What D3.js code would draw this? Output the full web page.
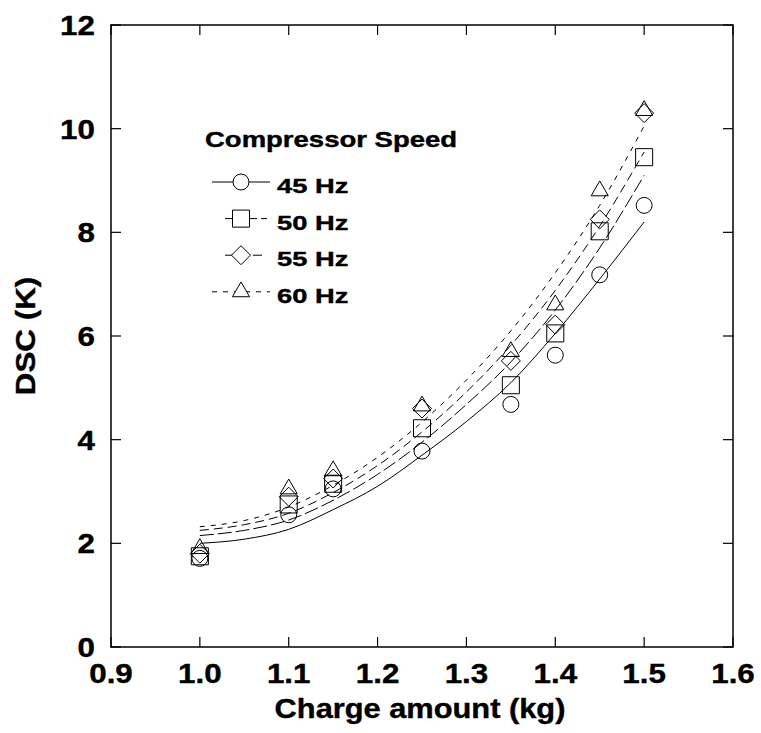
<!DOCTYPE html>
<html>
<head>
<meta charset="utf-8">
<script src="https://cdn.jsdelivr.net/npm/d3@7"></script>
<style>
  body { margin: 0; background: #fff; }
  text { font-family: "Liberation Sans", Arial, sans-serif; font-weight: bold; fill: #000; stroke: #000; stroke-width: 0.4px; }
</style>
</head>
<body>
<svg id="chart"></svg>
<script>
// measured points
const charge = [1.0, 1.1, 1.15, 1.25, 1.35, 1.4, 1.45, 1.5];
const dsc45 = [1.71, 2.55, 3.05, 3.78, 4.68, 5.63, 7.18, 8.52];
const dsc50 = [1.75, 2.75, 3.15, 4.22, 5.05, 6.05, 8.02, 9.45];
const dsc55 = [1.8, 2.9, 3.25, 4.6, 5.52, 6.22, 8.25, 10.3];
const dsc60 = [1.9, 3.05, 3.4, 4.65, 5.7, 6.6, 8.8, 10.35];

// fitted curves
const fitX = [1.0, 1.05, 1.1, 1.15, 1.2, 1.25, 1.3, 1.35, 1.4, 1.45, 1.5];
const fit45 = [2.0, 2.08, 2.27, 2.65, 3.1, 3.7, 4.35, 5.1, 6.05, 7.1, 8.2];
const fit50 = [2.15, 2.25, 2.45, 2.83, 3.33, 3.95, 4.68, 5.5, 6.5, 7.7, 9.1];
const fit55 = [2.25, 2.36, 2.58, 2.98, 3.5, 4.15, 4.92, 5.82, 6.88, 8.12, 9.55];
const fit60 = [2.32, 2.44, 2.7, 3.12, 3.66, 4.34, 5.15, 6.1, 7.22, 8.52, 10.05];

const speeds = ["45 Hz", "50 Hz", "55 Hz", "60 Hz"];
const xTicks = [0.9, 1.0, 1.1, 1.2, 1.3, 1.4, 1.5, 1.6];
const yTicks = [0, 2, 4, 6, 8, 10, 12];

const series = [
  {name: speeds[0], pts: dsc45, fit: fit45, symbol: d3.symbolCircle, size: 200, dash: null},
  {name: speeds[1], pts: dsc50, fit: fit50, symbol: d3.symbolSquare, size: 290, dash: "14,4"},
  {name: speeds[2], pts: dsc55, fit: fit55, symbol: d3.symbolDiamond2, size: 230, dash: "9,5"},
  {name: speeds[3], pts: dsc60, fit: fit60, symbol: d3.symbolTriangle2, size: 210, dash: "5,6"}
];

const W = 761, H = 733;
const margin = {top: 25, right: 28, bottom: 86, left: 111};
const width = W - margin.left - margin.right;
const height = H - margin.top - margin.bottom;

const svg = d3.select("#chart").attr("width", W).attr("height", H);
const g = svg.append("g").attr("transform", `translate(${margin.left},${margin.top})`);

const x = d3.scaleLinear().domain([0.9, 1.6]).range([0, width]);
const y = d3.scaleLinear().domain([0, 12]).range([height, 0]);

// the original lettering is a bit wider than Liberation Sans
function wideText(sel, px, py, sx, rot) {
  return sel.append("text")
    .attr("transform", `translate(${px},${py})${rot ? " rotate(" + rot + ")" : ""} scale(${sx},1)`);
}

// frame
g.append("rect")
  .attr("width", width).attr("height", height)
  .attr("fill", "none").attr("stroke", "#000").attr("stroke-width", 1.5);

// inner ticks on all four sides
const tl = 10;
g.append("g").selectAll("line").data(xTicks).join("line")
  .attr("x1", d => x(d)).attr("x2", d => x(d))
  .attr("y1", height).attr("y2", height - tl)
  .attr("stroke", "#000").attr("stroke-width", 1.2);
g.append("g").selectAll("line").data(xTicks).join("line")
  .attr("x1", d => x(d)).attr("x2", d => x(d))
  .attr("y1", 0).attr("y2", tl)
  .attr("stroke", "#000").attr("stroke-width", 1.2);
g.append("g").selectAll("line").data(yTicks).join("line")
  .attr("x1", 0).attr("x2", tl)
  .attr("y1", d => y(d)).attr("y2", d => y(d))
  .attr("stroke", "#000").attr("stroke-width", 1.2);
g.append("g").selectAll("line").data(yTicks).join("line")
  .attr("x1", width).attr("x2", width - tl)
  .attr("y1", d => y(d)).attr("y2", d => y(d))
  .attr("stroke", "#000").attr("stroke-width", 1.2);

// tick labels
g.append("g").selectAll("text").data(xTicks).join("text")
  .attr("transform", d => `translate(${x(d)},${height + 36}) scale(1.12,1)`)
  .attr("text-anchor", "middle").style("font-size", "28px")
  .text(d => d.toFixed(1));
g.append("g").selectAll("text").data(yTicks).join("text")
  .attr("transform", d => `translate(-16,${y(d) + 10}) scale(1.12,1)`)
  .attr("text-anchor", "end").style("font-size", "28px")
  .text(d => d);

// axis titles
wideText(g, width / 2 - 2, height + 71, 1.1)
  .attr("text-anchor", "middle").style("font-size", "28px")
  .text("Charge amount (kg)");
wideText(g, -76, height / 2, 1.12, -90)
  .attr("text-anchor", "middle").style("font-size", "28px")
  .text("DSC (K)");

// fitted curves
const line = d3.line()
  .x(d => x(d[0])).y(d => y(d[1]))
  .curve(d3.curveMonotoneX);

series.forEach(s => {
  g.append("path")
    .datum(fitX.map((v, i) => [v, s.fit[i]]))
    .attr("d", line)
    .attr("fill", "none").attr("stroke", "#000").attr("stroke-width", 1)
    .attr("stroke-dasharray", s.dash);
});

// markers
series.forEach(s => {
  g.append("g").selectAll("path").data(charge.map((v, i) => [v, s.pts[i]])).join("path")
    .attr("transform", d => `translate(${x(d[0])},${y(d[1])})`)
    .attr("d", d3.symbol().type(s.symbol).size(s.size))
    .attr("fill", "none").attr("stroke", "#000").attr("stroke-width", 1);
});

// legend
const legend = g.append("g");
wideText(legend, 94, 122, 1.25)
  .style("font-size", "22px")
  .text("Compressor Speed");

const legX1 = [101, 114, 114, 101];
const legX2 = [159, 156, 156, 159];
const rows = legend.selectAll("g.row").data(series).join("g")
  .attr("class", "row")
  .attr("transform", (d, i) => `translate(0,${157 + i * 36.6})`);
rows.append("line")
  .attr("x1", (d, i) => legX1[i]).attr("x2", (d, i) => legX2[i])
  .attr("y1", 0).attr("y2", 0)
  .attr("stroke", "#000").attr("stroke-width", 1)
  .attr("stroke-dasharray", d => d.dash);
rows.append("path")
  .attr("transform", "translate(130,0)")
  .attr("d", d => d3.symbol().type(d.symbol).size(d.size)())
  .attr("fill", "#fff").attr("stroke", "#000").attr("stroke-width", 1);
rows.each(function(d) {
  wideText(d3.select(this), 166, 11, 1.3)
    .style("font-size", "21px")
    .text(d.name);
});
</script>
</body>
</html>
